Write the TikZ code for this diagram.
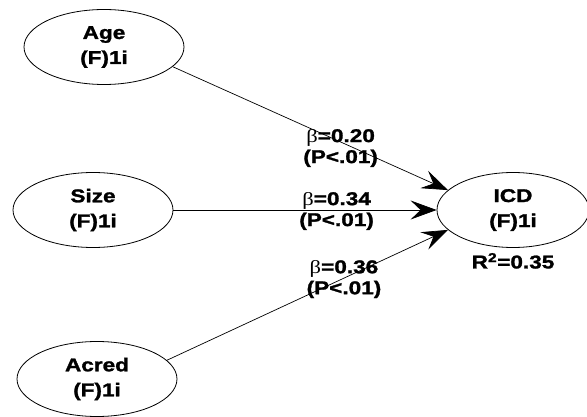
\documentclass[tikz,border=0pt]{standalone}
\usepackage{fontspec}
\setmainfont{Liberation Sans}
\newfontfamily\semfont[FakeStretch=1.22,FakeBold=1.5]{Liberation Sans}
\newfontfamily\semgreek[FakeStretch=1.22]{Liberation Serif}
\usetikzlibrary{arrows.meta,shapes.geometric}
\tikzset{
  semvar/.style={draw,ellipse,line width=0.8pt,inner sep=0pt,minimum width=160pt,minimum height=75pt,align=center,font=\semfont\bfseries\fontsize{18.5}{25}\selectfont},
  semflow/.style={-{Stealth[length=26pt,width=19pt,inset=10pt]},line width=0.7pt},
  semlabel/.style={align=center,inner sep=0pt,font=\semfont\bfseries\fontsize{18.5}{21}\selectfont},
}
\newcommand{\sembeta}{{\semgreek\mdseries β}}

\begin{document}
\begin{tikzpicture}[x=1pt,y=-1pt]
\useasboundingbox (0,0) rectangle (587,417);
\node[semvar] (age) at (104,47){Age\\(F)1i};
\node[semvar] (size) at (93,210){Size\\(F)1i};
\node[semvar] (acred) at (97,379){Acred\\(F)1i};
\node[semvar,minimum width=152pt] (icd) at (513,210){ICD\\(F)1i};
\node[semlabel,below=5pt] (r2) at (icd.south){R\textsuperscript{2}=0.35};
\draw[semflow](age.-16)--(icd.163) node[semlabel,pos=0.61,yshift=-6pt]{\sembeta=0.20\\(P<.01)};
\draw[semflow](size)--(icd) node[semlabel,pos=0.62,yshift=-1pt]{\sembeta=0.34\\(P<.01)};
\draw[semflow](acred.15)--(icd.197) node[semlabel,pos=0.63,yshift=-1pt]{\sembeta=0.36\\(P<.01)};
\end{tikzpicture}
\end{document}
